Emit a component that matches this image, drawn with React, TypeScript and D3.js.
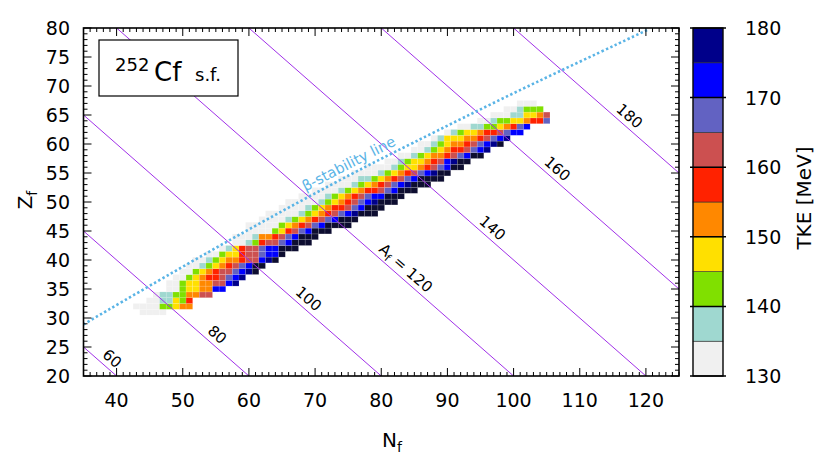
import React from 'react';
import * as d3 from 'd3';

const W = 830;
const H = 475;
const FONT = 'DejaVu Sans, sans-serif';

// axes
const nRange = [35, 125];
const zRange = [20, 80];
const tkeRange = [130, 180];
const xTickLabels = [40, 50, 60, 70, 80, 90, 100, 110, 120];
const yTickLabels = [20, 25, 30, 35, 40, 45, 50, 55, 60, 65, 70, 75, 80];
const cbTickLabels = [130, 140, 150, 160, 170, 180];

// colour bins of 5 MeV, 130..180, plus overflow
const binEdges = [135, 140, 145, 150, 155, 160, 165, 170, 175, 180];
const binColors = ['#f0f0f0', '#9fd8d0', '#80e000', '#ffe000', '#ff8800', '#ff2200', '#cc5050', '#6262c2', '#0000ff', '#00008a', '#0d0d30'];

// fragment yield map: one row per Z, first N of the row, TKE bin of each cell
// (digit k = 130+5k .. 135+5k MeV, X = above 180 MeV)
const rowZ = [31, 32, 33, 34, 35, 36, 37, 38, 39, 40, 41, 42, 43, 44, 45, 46, 47, 48, 49,
  50, 51, 52, 53, 54, 55, 56, 57, 58, 59, 60, 61, 62, 63, 64, 65, 66, 67];
const rowN0 = [44, 43, 45, 46, 48, 48, 49, 50, 51, 52, 54, 56, 58, 58, 60, 60, 62, 63, 65,
  66, 68, 70, 72, 74, 76, 78, 81, 83, 85, 86, 88, 90, 92, 95, 97, 99, 101];
const rowBins = [
  '0000', '000022344', '0011325', '011224466', '002334488', '00233446689',
  '00234556789', '00234566789X', '0012345678XX', '001234456689X', '00233566788X',
  '013566788XXX', '001256678XXX', '0001445678XXX', '0000235678XXX', '000002345678XXXX',
  '000012345678XXX', '00000123456789XXX', '0000123455678XXX', '00000123456789XXX',
  '0000123456788XXX', '0000123455678XXX', '0000123456789XXX', '000112345678XXXX',
  '0000123456789XX', '0000123345678XX', '00123345689XX', '00123445678XX',
  '001234556789', '001234456789X', '013334456789', '012334556788',
  '00112234578', '00122334557', '000113346', '001222', '000',
];

// iso-A lines and where their labels sit (N along the line)
const isoA = [60, 80, 100, 120, 140, 160, 180];
const isoLabel = ['60', '80', '100', 'Af = 120', '140', '160', '180'];
const isoLabelN = [38.3, 54.2, 68, 82.7, 95.8, 105.6, 116.5];

// beta-stability line
const betaN = [35, 50.7, 62.9, 75.3, 84.8, 100.8, 120.3];
const betaZ = [28.9, 39.3, 47.1, 54.7, 60.2, 69.2, 79.7];

const left = 83.5, right = 679, top = 28, bottom = 376;
const cbLeft = 693, cbRight = 723;

export default function App() {
  const x = d3.scaleLinear(nRange, [left, right]);
  const y = d3.scaleLinear(zRange, [bottom, top]);
  const cy = d3.scaleLinear(tkeRange, [bottom, top]);
  const color = d3.scaleThreshold<number, string>(binEdges, binColors);

  const cells: { n: number; z: number; tke: number }[] = [];
  rowZ.forEach((z, i) => {
    rowBins[i].split('').forEach((c, j) => {
      cells.push({ n: rowN0[i] + j, z, tke: c === 'X' ? 185 : 132.5 + 5 * Number(c) });
    });
  });

  const minorX = d3.range(nRange[0], nRange[1] + 1);
  const minorY = d3.range(zRange[0], zRange[1] + 1);

  const betaLine = d3.line<number>((d) => x(d), (d, i) => y(betaZ[i])).curve(d3.curveCatmullRom)(betaN) || '';

  const isoAngle = (Math.atan2(y(0) - y(1), x(1) - x(0)) * 180) / Math.PI;
  const rad = (isoAngle * Math.PI) / 180;
  const off = 10;

  const betaAngle = (Math.atan2(y(61) - y(54), x(86.5) - x(74.5)) * 180) / Math.PI;
  const bRad = (betaAngle * Math.PI) / 180;
  const bN = 75.8, bZ = 55.0;
  const bx = x(bN) + 10.5 * Math.sin(bRad), by = y(bZ) - 10.5 * Math.cos(bRad);

  return (
    <svg width={W} height={H} style={{ position: 'absolute', left: 0, top: 0, background: '#fff' }} fontFamily={FONT}>
      <defs>
        <clipPath id="plot">
          <rect x={left} y={top} width={right - left} height={bottom - top} />
        </clipPath>
      </defs>

      {/* cells */}
      <g>
        {cells.map((d, i) => (
          <rect key={i} x={x(d.n - 0.5)} y={y(d.z + 0.5)} width={x(d.n + 0.5) - x(d.n - 0.5)}
            height={y(d.z - 0.5) - y(d.z + 0.5)} fill={color(d.tke)}
            stroke="#ffffff" strokeOpacity={0.2} strokeWidth={0.6} />
        ))}
      </g>

      {/* iso-A lines */}
      <g clipPath="url(#plot)" stroke="#a030e8" strokeWidth={1}>
        {isoA.map((a) => (
          <line key={a} x1={x(a - zRange[1])} y1={y(zRange[1])} x2={x(a - zRange[0])} y2={y(zRange[0])} />
        ))}
      </g>
      <g fontSize={15} fill="#000">
        {isoA.map((a, i) => {
          const n = isoLabelN[i];
          const px = x(n) + off * Math.sin(rad);
          const py = y(a - n) - off * Math.cos(rad);
          return (
            <text key={a} transform={`translate(${px},${py}) rotate(${isoAngle})`} textAnchor="middle" dominantBaseline="central">
              {isoLabel[i].startsWith('Af') ? (
                <>A<tspan fontSize={11} dy={4}>f</tspan><tspan dy={-4}> = 120</tspan></>
              ) : isoLabel[i]}
            </text>
          );
        })}
      </g>

      {/* beta stability */}
      <path d={betaLine} clipPath="url(#plot)" fill="none" stroke="#5ab4e6" strokeWidth={2.6} strokeDasharray="2.4 2.4" />
      <text transform={`translate(${bx},${by}) rotate(${betaAngle})`} textAnchor="middle" dominantBaseline="central"
        fontSize={14.5} fill="#5ab4e6">β-stability line</text>

      {/* frame and ticks */}
      <g stroke="#000" strokeWidth={1}>
        {minorX.map((n) => {
          const len = n % 10 === 0 ? 8 : 4;
          return (
            <g key={'x' + n}>
              <line x1={x(n)} x2={x(n)} y1={bottom} y2={bottom - len} />
              <line x1={x(n)} x2={x(n)} y1={top} y2={top + len} />
            </g>
          );
        })}
        {minorY.map((z) => {
          const len = z % 5 === 0 ? 8 : 4;
          return (
            <g key={'y' + z}>
              <line x1={left} x2={left + len} y1={y(z)} y2={y(z)} />
              <line x1={right} x2={right - len} y1={y(z)} y2={y(z)} />
            </g>
          );
        })}
      </g>
      <rect x={left} y={top} width={right - left} height={bottom - top} fill="none" stroke="#000" strokeWidth={1.6} />

      <g fontSize={19} fill="#000">
        {xTickLabels.map((t) => (
          <text key={t} x={x(t)} y={407} textAnchor="middle">{t}</text>
        ))}
        {yTickLabels.map((t) => (
          <text key={t} x={70} y={y(t)} textAnchor="end" dominantBaseline="central">{t}</text>
        ))}
      </g>

      <text x={392} y={447} textAnchor="middle" fontSize={20}>N<tspan fontSize={14} dy={5}>f</tspan></text>
      <text transform="translate(32,200) rotate(-90)" textAnchor="middle" fontSize={20}>Z<tspan fontSize={14} dy={5}>f</tspan></text>

      {/* legend box */}
      <rect x={99} y={40} width={139} height={56} fill="#fff" stroke="#000" strokeWidth={1.2} />
      <text x={115} y={70.5} fontSize={18}>252</text>
      <text x={154} y={80.5} fontSize={26}>Cf</text>
      <text x={195} y={80.5} fontSize={18}>s.f.</text>

      {/* colour bar */}
      <g>
        {binColors.slice(0, 10).map((c, i) => {
          const lo = tkeRange[0] + 5 * i;
          return (
            <rect key={c} x={cbLeft} y={cy(lo + 5)} width={cbRight - cbLeft} height={cy(lo) - cy(lo + 5)}
              fill={c} stroke="#333" strokeWidth={0.6} />
          );
        })}
        <rect x={cbLeft} y={top} width={cbRight - cbLeft} height={bottom - top} fill="none" stroke="#000" strokeWidth={1.2} />
        {cbTickLabels.map((t) => (
          <g key={t}>
            <line x1={cbLeft - 3} x2={cbRight + 3} y1={cy(t)} y2={cy(t)} stroke="#000" strokeWidth={1.5} />
            <text x={745} y={cy(t)} fontSize={19} dominantBaseline="central">{t}</text>
          </g>
        ))}
        <text transform="translate(811,198) rotate(-90)" textAnchor="middle" fontSize={20}>TKE [MeV]</text>
      </g>
    </svg>
  );
}
